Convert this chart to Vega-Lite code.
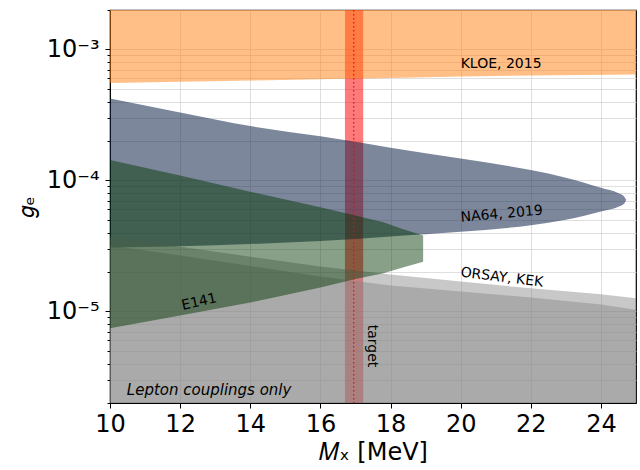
{
  "$schema": "https://vega.github.io/schema/vega-lite/v6.json",
  "width": 526,
  "height": 393,
  "autosize": {"type": "none"},
  "padding": {"left": 110, "top": 10, "right": 4, "bottom": 67},
  "background": "white",
  "config": {
    "font": "DejaVu Sans",
    "view": {"stroke": "black", "strokeWidth": 1.2},
    "axis": {
      "labelFont": "DejaVu Sans",
      "titleFont": "DejaVu Sans",
      "labelColor": "black",
      "titleColor": "black",
      "titleFontWeight": "normal",
      "domainColor": "black",
      "tickColor": "black",
      "gridColor": "#d4d4d4",
      "gridOpacity": 0.75,
      "gridWidth": 1,
      "zindex": 1
    }
  },
  "datasets": {
    "redband": [{"x": 16.7, "x2": 17.22}],
    "target": [{"x": 16.95}],
    "kloe": [
      {"x": 10, "y": 0.005, "y2": 0.000554},
      {"x": 12, "y": 0.005, "y2": 0.000566},
      {"x": 14, "y": 0.005, "y2": 0.000579},
      {"x": 16, "y": 0.005, "y2": 0.000591},
      {"x": 18, "y": 0.005, "y2": 0.000606},
      {"x": 20, "y": 0.005, "y2": 0.000622},
      {"x": 22, "y": 0.005, "y2": 0.000633},
      {"x": 25, "y": 0.005, "y2": 0.000645}
    ],
    "na64": [
      {"x": 10, "y": 0.000422, "y2": 0.0000307},
      {"x": 12, "y": 0.00033, "y2": 0.0000315},
      {"x": 14, "y": 0.00026, "y2": 0.0000327},
      {"x": 16, "y": 0.000217, "y2": 0.0000345},
      {"x": 18, "y": 0.000178, "y2": 0.0000374},
      {"x": 20, "y": 0.000147, "y2": 0.0000405},
      {"x": 22, "y": 0.00012, "y2": 0.0000455},
      {"x": 23, "y": 0.000105, "y2": 0.00005},
      {"x": 24, "y": 0.000088, "y2": 0.000058},
      {"x": 24.5, "y": 0.00008, "y2": 0.000063},
      {"x": 24.65, "y": 0.000076, "y2": 0.000066},
      {"x": 24.72, "y": 0.000071, "y2": 0.000071}
    ],
    "orsayA": [
      {"x": 10, "y": 0.0000372, "y2": 0.000001},
      {"x": 12, "y": 0.0000312, "y2": 0.000001},
      {"x": 14, "y": 0.0000262, "y2": 0.000001},
      {"x": 16, "y": 0.000022, "y2": 0.000001},
      {"x": 18, "y": 0.0000191, "y2": 0.000001},
      {"x": 20, "y": 0.0000169, "y2": 0.000001},
      {"x": 22, "y": 0.000015, "y2": 0.000001},
      {"x": 24, "y": 0.0000135, "y2": 0.000001},
      {"x": 25, "y": 0.0000126, "y2": 0.000001}
    ],
    "orsayB": [
      {"x": 10, "y": 0.0000318, "y2": 0.000001},
      {"x": 12, "y": 0.0000267, "y2": 0.000001},
      {"x": 14, "y": 0.0000222, "y2": 0.000001},
      {"x": 16, "y": 0.0000185, "y2": 0.000001},
      {"x": 18, "y": 0.0000158, "y2": 0.000001},
      {"x": 20, "y": 0.0000142, "y2": 0.000001},
      {"x": 22, "y": 0.0000128, "y2": 0.000001},
      {"x": 24, "y": 0.0000113, "y2": 0.000001},
      {"x": 25, "y": 0.0000103, "y2": 0.000001}
    ],
    "e141": [
      {"x": 10, "y": 0.000143, "y2": 0.00000743},
      {"x": 12, "y": 0.000109, "y2": 0.00000933},
      {"x": 14, "y": 0.000082, "y2": 0.0000117},
      {"x": 16, "y": 0.0000625, "y2": 0.0000152},
      {"x": 17, "y": 0.000054, "y2": 0.0000177},
      {"x": 17.8, "y": 0.000048, "y2": 0.0000196},
      {"x": 18.3, "y": 0.000043, "y2": 0.0000215},
      {"x": 18.93, "y": 0.000038, "y2": 0.000024}
    ],
    "lblKloe": [{"x": 20, "y": 0.000778, "text": "KLOE, 2015"}],
    "lblNa64": [{"x": 20, "y": 0.0000519, "text": "NA64, 2019"}],
    "lblOrsay": [{"x": 20, "y": 0.0000198, "text": "ORSAY, KEK"}],
    "lblE141": [{"x": 12.05, "y": 0.000011, "text": "E141"}],
    "lblTarget": [{"x": 17.46, "y": 0.00000545, "text": "target"}],
    "lblLepton": [{"x": 10.48, "y": 0.00000251, "text": "Lepton couplings only"}]
  },
  "layer": [
    {
      "data": {"name": "redband"},
      "mark": {"type": "rect", "color": "#ff0000", "opacity": 0.52},
      "encoding": {
        "x": {"field": "x", "type": "quantitative", "title": "𝑀ₓ  [MeV]",
          "scale": {"domain": [10, 25], "nice": false, "zero": false},
          "axis": {"values": [10, 12, 14, 16, 18, 20, 22, 24], "labelFontSize": 24, "titleFontSize": 24, "tickSize": 5, "labelPadding": 4, "titlePadding": 4, "labelFlush": false}},
        "x2": {"field": "x2"}
      }
    },
    {
      "data": {"name": "kloe"},
      "mark": {"type": "area", "color": "#ff7f0e", "opacity": 0.5, "clip": true},
      "encoding": {
        "x": {"field": "x", "type": "quantitative", "title": "𝑀ₓ  [MeV]"},
        "y": {"field": "y", "type": "quantitative", "title": "𝑔ₑ",
          "scale": {"type": "log", "domain": [0.000002, 0.002], "nice": false},
          "axis": {
            "values": [0.000002, 0.000003, 0.000004, 0.000005, 0.000006, 0.000007, 0.000008, 0.000009, 0.00001, 0.00002, 0.00003, 0.00004, 0.00005, 0.00006, 0.00007, 0.00008, 0.00009, 0.0001, 0.0002, 0.0003, 0.0004, 0.0005, 0.0006, 0.0007, 0.0008, 0.0009, 0.001, 0.002],
            "labelExpr": "(datum.value > 0.00099 && datum.value < 0.00101) ? '10⁻³' : (datum.value > 0.000099 && datum.value < 0.000101) ? '10⁻⁴' : (datum.value > 0.0000099 && datum.value < 0.0000101) ? '10⁻⁵' : ''",
            "labelOverlap": false,
            "labelFontSize": 24,
            "titleFontSize": 22,
            "labelPadding": 6,
            "titlePadding": 8,
            "tickSize": {"condition": {"test": "(datum.value > 0.00099 && datum.value < 0.00101) || (datum.value > 0.000099 && datum.value < 0.000101) || (datum.value > 0.0000099 && datum.value < 0.0000101)", "value": 5}, "value": 3}
          }},
        "y2": {"field": "y2"}
      }
    },
    {
      "data": {"name": "na64"},
      "mark": {"type": "area", "color": "#13254a", "opacity": 0.55, "clip": true, "interpolate": "monotone"},
      "encoding": {
        "x": {"field": "x", "type": "quantitative", "title": "𝑀ₓ  [MeV]"},
        "y": {"field": "y", "type": "quantitative", "title": "𝑔ₑ"},
        "y2": {"field": "y2"}
      }
    },
    {
      "data": {"name": "orsayA"},
      "mark": {"type": "area", "color": "#868686", "opacity": 0.45, "clip": true},
      "encoding": {
        "x": {"field": "x", "type": "quantitative", "title": "𝑀ₓ  [MeV]"},
        "y": {"field": "y", "type": "quantitative", "title": "𝑔ₑ"},
        "y2": {"field": "y2"}
      }
    },
    {
      "data": {"name": "orsayB"},
      "mark": {"type": "area", "color": "#868686", "opacity": 0.45, "clip": true},
      "encoding": {
        "x": {"field": "x", "type": "quantitative", "title": "𝑀ₓ  [MeV]"},
        "y": {"field": "y", "type": "quantitative", "title": "𝑔ₑ"},
        "y2": {"field": "y2"}
      }
    },
    {
      "data": {"name": "e141"},
      "mark": {"type": "area", "color": "#003500", "opacity": 0.47, "clip": true},
      "encoding": {
        "x": {"field": "x", "type": "quantitative", "title": "𝑀ₓ  [MeV]"},
        "y": {"field": "y", "type": "quantitative", "title": "𝑔ₑ"},
        "y2": {"field": "y2"}
      }
    },
    {
      "data": {"name": "target"},
      "mark": {"type": "rule", "color": "#ff0000", "strokeWidth": 1.2, "strokeDash": [1.5, 2.5]},
      "encoding": {
        "x": {"field": "x", "type": "quantitative", "title": "𝑀ₓ  [MeV]"}
      }
    },
    {
      "data": {"name": "lblKloe"},
      "mark": {"type": "text", "align": "left", "baseline": "middle", "fontSize": 14, "color": "black"},
      "encoding": {
        "x": {"field": "x", "type": "quantitative", "title": "𝑀ₓ  [MeV]"},
        "y": {"field": "y", "type": "quantitative", "title": "𝑔ₑ"},
        "text": {"field": "text"}
      }
    },
    {
      "data": {"name": "lblNa64"},
      "mark": {"type": "text", "align": "left", "baseline": "middle", "fontSize": 14, "angle": -5, "color": "black"},
      "encoding": {
        "x": {"field": "x", "type": "quantitative", "title": "𝑀ₓ  [MeV]"},
        "y": {"field": "y", "type": "quantitative", "title": "𝑔ₑ"},
        "text": {"field": "text"}
      }
    },
    {
      "data": {"name": "lblOrsay"},
      "mark": {"type": "text", "align": "left", "baseline": "middle", "fontSize": 14, "angle": 7, "color": "black"},
      "encoding": {
        "x": {"field": "x", "type": "quantitative", "title": "𝑀ₓ  [MeV]"},
        "y": {"field": "y", "type": "quantitative", "title": "𝑔ₑ"},
        "text": {"field": "text"}
      }
    },
    {
      "data": {"name": "lblE141"},
      "mark": {"type": "text", "align": "left", "baseline": "middle", "fontSize": 14, "angle": -13, "color": "black"},
      "encoding": {
        "x": {"field": "x", "type": "quantitative", "title": "𝑀ₓ  [MeV]"},
        "y": {"field": "y", "type": "quantitative", "title": "𝑔ₑ"},
        "text": {"field": "text"}
      }
    },
    {
      "data": {"name": "lblTarget"},
      "mark": {"type": "text", "align": "center", "baseline": "middle", "fontSize": 14, "angle": 90, "color": "black"},
      "encoding": {
        "x": {"field": "x", "type": "quantitative", "title": "𝑀ₓ  [MeV]"},
        "y": {"field": "y", "type": "quantitative", "title": "𝑔ₑ"},
        "text": {"field": "text"}
      }
    },
    {
      "data": {"name": "lblLepton"},
      "mark": {"type": "text", "align": "left", "baseline": "middle", "fontSize": 15, "fontStyle": "italic", "color": "black"},
      "encoding": {
        "x": {"field": "x", "type": "quantitative", "title": "𝑀ₓ  [MeV]"},
        "y": {"field": "y", "type": "quantitative", "title": "𝑔ₑ"},
        "text": {"field": "text"}
      }
    }
  ]
}
